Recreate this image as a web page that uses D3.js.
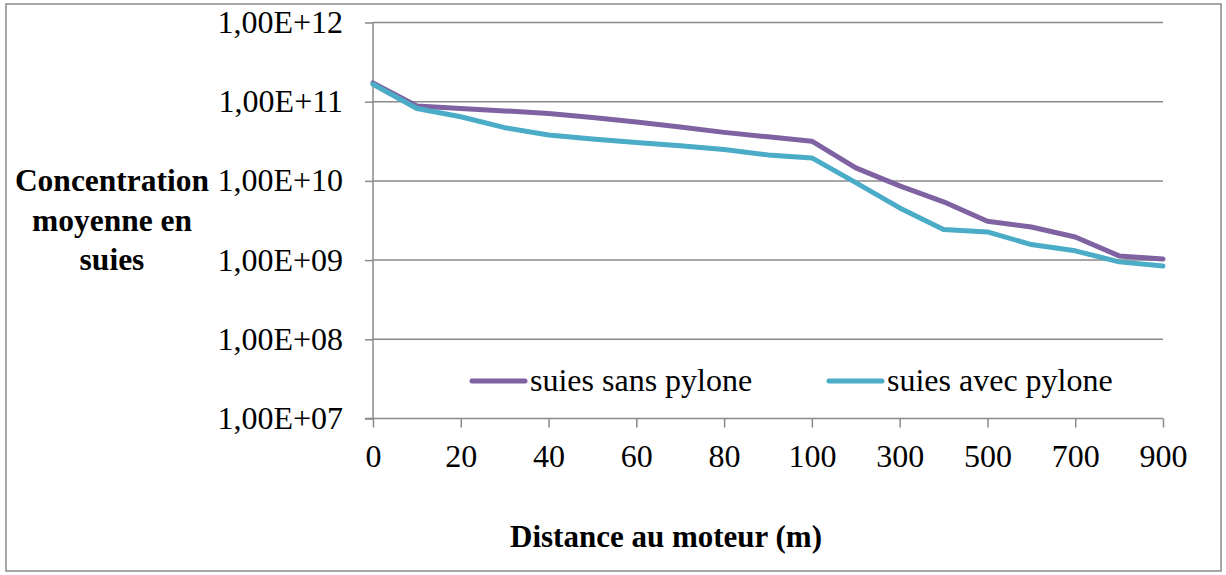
<!DOCTYPE html>
<html>
<head>
<meta charset="utf-8">
<script src="https://cdn.jsdelivr.net/npm/d3@7"></script>
<style>
  body { margin: 0; background: #fff; }
  svg { display: block; }
  text { font-family: "Liberation Serif", "Times New Roman", serif; }
</style>
</head>
<body>
<svg id="chart" width="1226" height="575"></svg>
<script>
const categories = ["0","10","20","30","40","50","60","70","80","90","100","200","300","400","500","600","700","800","900"];
const sansPylone = [1.73e11, 8.85e10, 8.2e10, 7.65e10, 7.1e10, 6.3e10, 5.55e10, 4.8e10, 4.1e10, 3.6e10, 3.17e10, 1.46e10, 8.65e9, 5.45e9, 3.1e9, 2.62e9, 1.96e9, 1.13e9, 1.03e9];
const avecPylone = [1.66e11, 8.2e10, 6.45e10, 4.7e10, 3.8e10, 3.38e10, 3.05e10, 2.77e10, 2.49e10, 2.13e10, 1.95e10, 9.5e9, 4.56e9, 2.43e9, 2.27e9, 1.57e9, 1.31e9, 9.5e8, 8.4e8];
const seriesNames = ["suies sans pylone", "suies avec pylone"];
const seriesColors = ["#7F62A1", "#4AACC6"];
const yTicks = [1e7, 1e8, 1e9, 1e10, 1e11, 1e12];
const xTickLabels = ["0","20","40","60","80","100","300","500","700","900"];

const FONT = "Liberation Serif";
const svg = d3.select("#chart");
const gray = "#898989";

// outer border
svg.append("rect").attr("x", 6).attr("y", 4).attr("width", 1215).attr("height", 567)
  .attr("fill", "none").attr("stroke", gray).attr("stroke-width", 1.5);

const x = d3.scalePoint().domain(categories).range([373, 1163]);
const y = d3.scaleLog().domain([1e7, 1e12]).range([418.5, 22.5]);

// gridlines
svg.append("g").selectAll("line").data(yTicks.slice(1)).join("line")
  .attr("x1", 373).attr("x2", 1163)
  .attr("y1", d => y(d)).attr("y2", d => y(d))
  .attr("stroke", gray).attr("stroke-width", 1.5);

const fmt = d => "1,00E+" + String(Math.round(Math.log10(d))).padStart(2, "0");

// y axis
const yAxis = svg.append("g").attr("transform", "translate(373,0)")
  .call(d3.axisLeft(y).tickValues(yTicks).tickFormat(fmt).tickSize(8).tickPadding(22));
yAxis.attr("font-family", FONT);
yAxis.select(".domain").attr("stroke", gray).attr("stroke-width", 1.5).attr("d", `M0,${y(1e12)}V${y(1e7)}`);
yAxis.selectAll(".tick line").attr("stroke", gray).attr("stroke-width", 1.5);
yAxis.selectAll(".tick text").attr("font-size", 32).attr("fill", "#000")
  .attr("font-family", FONT).attr("dy", "0.31em");

// x axis
const xAxis = svg.append("g").attr("transform", `translate(0,${y(1e7)})`)
  .call(d3.axisBottom(x).tickValues(xTickLabels).tickSize(9).tickPadding(17));
xAxis.attr("font-family", FONT);
xAxis.select(".domain").attr("stroke", gray).attr("stroke-width", 1.5).attr("d", `M365,0H${x("900")}`);
xAxis.selectAll(".tick line").attr("stroke", gray).attr("stroke-width", 1.5);
xAxis.selectAll(".tick text").attr("font-size", 32).attr("fill", "#000")
  .attr("font-family", FONT);

// lines
const line = d3.line().x((d, i) => x(categories[i])).y(d => y(d));
[sansPylone, avecPylone].forEach((s, k) => {
  svg.append("path").datum(s).attr("d", line)
    .attr("fill", "none").attr("stroke", seriesColors[k]).attr("stroke-width", 5)
    .attr("stroke-linejoin", "round").attr("stroke-linecap", "round");
});

// legend
const legendX = [472, 829];
seriesNames.forEach((n, k) => {
  const g = svg.append("g");
  g.append("line").attr("x1", legendX[k]).attr("x2", legendX[k] + 53)
    .attr("y1", 381).attr("y2", 381)
    .attr("stroke", seriesColors[k]).attr("stroke-width", 5).attr("stroke-linecap", "round");
  g.append("text").attr("x", legendX[k] + 58).attr("y", 391)
    .attr("font-family", FONT).attr("font-size", 32).text(n);
});

// axis titles
const yTitle = ["Concentration", "moyenne en", "suies"];
svg.append("g").selectAll("text").data(yTitle).join("text")
  .attr("x", 112).attr("y", (d, i) => 191 + i * 39.5)
  .attr("text-anchor", "middle").attr("font-weight", "bold").attr("font-size", 31.5)
  .attr("font-family", FONT)
  .text(d => d);

svg.append("text").attr("x", 666).attr("y", 547)
  .attr("text-anchor", "middle").attr("font-weight", "bold").attr("font-size", 31)
  .attr("font-family", FONT)
  .text("Distance au moteur (m)");
</script>
</body>
</html>
